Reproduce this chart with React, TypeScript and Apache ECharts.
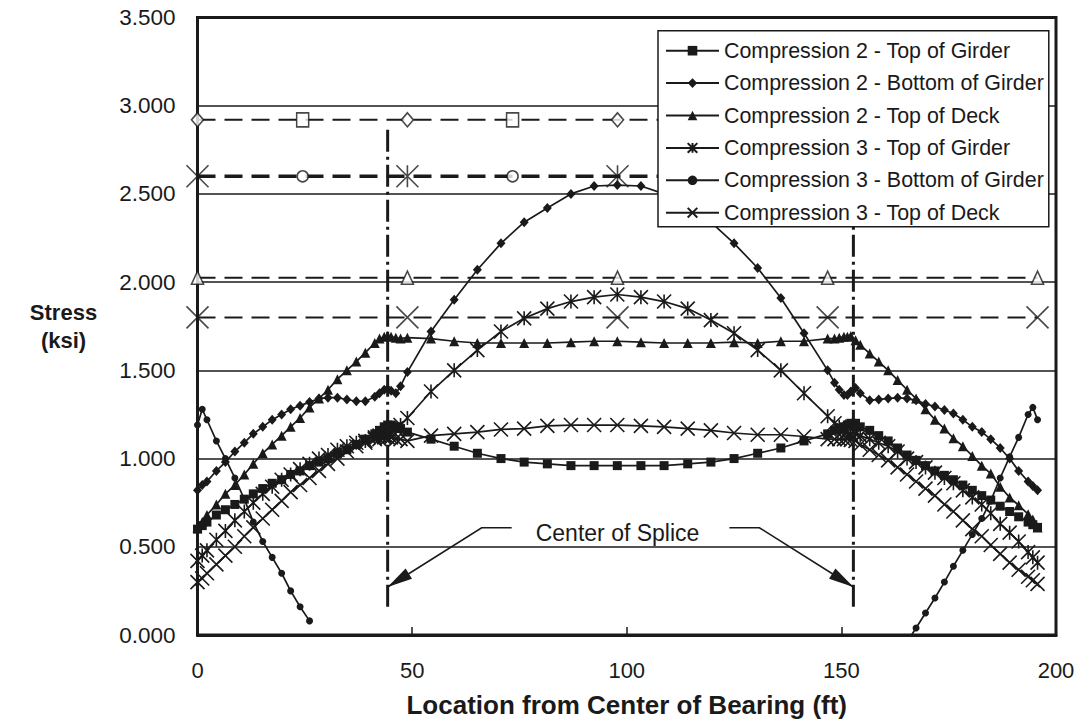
import React, { useEffect, useRef } from "react";
import * as echarts from "echarts";

const FONT = "'Liberation Sans', Arial, Helvetica, sans-serif";
const INK = "#1a1a1a";

// Location from center of bearing (ft)
const locations = [
  0, 1.1, 2.2, 4.4, 6.5, 8.7, 10.9, 13.0, 15.2, 17.4, 19.6, 21.7, 23.9, 26.1, 28.3, 30.4, 32.6, 34.8, 37.0, 39.1, 41.3, 42.4, 43.5, 44.3, 45.1, 46.2, 47.3, 48.9,
  54.4, 59.8, 65.2, 70.7, 76.1, 81.5, 87.0, 92.4, 97.8, 103.3, 108.7, 114.2, 119.6, 125.0, 130.5, 135.9, 141.3,
  146.8, 148.4, 149.5, 150.6, 151.4, 152.2, 153.3, 154.4, 156.6, 158.7, 160.9, 163.1, 165.3, 167.4, 169.6, 171.8, 174.0, 176.1, 178.3, 180.5, 182.7, 184.8, 187.0, 189.2, 191.3, 193.5, 194.6, 195.7,
];

const c2TopGirder = [
  0.60, 0.62, 0.64, 0.68, 0.71, 0.74, 0.77, 0.80, 0.83, 0.86, 0.88, 0.91, 0.93, 0.96, 0.98, 1.00, 1.03, 1.05, 1.08, 1.11, 1.14, 1.16, 1.18, 1.19, 1.19, 1.18, 1.17, 1.15,
  1.11, 1.07, 1.03, 1.00, 0.98, 0.97, 0.96, 0.96, 0.96, 0.96, 0.96, 0.97, 0.98, 1.00, 1.03, 1.06, 1.10,
  1.14, 1.16, 1.17, 1.18, 1.19, 1.20, 1.20, 1.18, 1.16, 1.13, 1.10, 1.06, 1.02, 0.99, 0.96, 0.93, 0.905, 0.88, 0.85, 0.82, 0.79, 0.765, 0.73, 0.70, 0.67, 0.64, 0.625, 0.61,
];

const c2BottomGirder = [
  0.82, 0.85, 0.87, 0.93, 0.98, 1.04, 1.09, 1.14, 1.18, 1.22, 1.25, 1.28, 1.30, 1.32, 1.34, 1.345, 1.345, 1.335, 1.325, 1.325, 1.35, 1.37, 1.39, 1.395, 1.385, 1.37, 1.41, 1.49,
  1.72, 1.90, 2.07, 2.22, 2.34, 2.42, 2.50, 2.545, 2.55, 2.545, 2.50, 2.43, 2.34, 2.22, 2.08, 1.91, 1.71,
  1.50, 1.43, 1.39, 1.36, 1.36, 1.38, 1.40, 1.37, 1.33, 1.335, 1.34, 1.345, 1.34, 1.33, 1.31, 1.295, 1.275, 1.255, 1.22, 1.18, 1.15, 1.11, 1.06, 1.00, 0.93, 0.87, 0.845, 0.82,
];

const c2TopDeck = [
  0.61, 0.64, 0.68, 0.74, 0.80, 0.85, 0.91, 0.97, 1.03, 1.08, 1.13, 1.18, 1.23, 1.29, 1.34, 1.39, 1.45, 1.50, 1.55, 1.60, 1.655, 1.68, 1.69, 1.695, 1.69, 1.685, 1.68, 1.685,
  1.68, 1.665, 1.655, 1.655, 1.655, 1.655, 1.66, 1.665, 1.665, 1.66, 1.655, 1.655, 1.655, 1.66, 1.655, 1.665, 1.665,
  1.68, 1.68, 1.685, 1.69, 1.69, 1.695, 1.67, 1.645, 1.595, 1.55, 1.50, 1.445, 1.39, 1.34, 1.28, 1.22, 1.17, 1.115, 1.07, 1.015, 0.96, 0.915, 0.84, 0.78, 0.735, 0.685, 0.655, 0.61,
];

const c3TopGirder = [
  0.42, 0.45, 0.48, 0.54, 0.59, 0.65, 0.70, 0.75, 0.80, 0.84, 0.88, 0.91, 0.94, 0.97, 1.00, 1.02, 1.05, 1.07, 1.09, 1.10, 1.12, 1.13, 1.13, 1.14, 1.15, 1.17, 1.19, 1.23,
  1.38, 1.50, 1.615, 1.72, 1.795, 1.85, 1.89, 1.915, 1.93, 1.915, 1.89, 1.85, 1.785, 1.71, 1.615, 1.50, 1.37,
  1.24, 1.20, 1.18, 1.16, 1.15, 1.14, 1.14, 1.13, 1.11, 1.09, 1.07, 1.04, 1.00, 0.98, 0.95, 0.92, 0.89, 0.86, 0.82, 0.78, 0.74, 0.69, 0.63, 0.58, 0.53, 0.47, 0.44, 0.41,
];

const c3BottomGirder = [
  1.19, 1.28, 1.22, 1.10, 1.00, 0.89, 0.77, 0.64, 0.53, 0.44, 0.35, 0.25, 0.16, 0.08, null, null, null, null, null, null, null, null, null, null, null, null, null, null,
  null, null, null, null, null, null, null, null, null, null, null, null, null, null, null, null, null,
  null, null, null, null, null, null, null, null, null, null, null, null, -0.04, 0.04, 0.125, 0.21, 0.30, 0.39, 0.48, 0.57, 0.66, 0.76, 0.89, 1.01, 1.12, 1.25, 1.29, 1.22,
];

const c3TopDeck = [
  0.30, 0.32, 0.35, 0.40, 0.45, 0.50, 0.56, 0.61, 0.66, 0.71, 0.76, 0.81, 0.85, 0.89, 0.93, 0.97, 1.00, 1.04, 1.07, 1.09, 1.11, 1.11, 1.12, 1.12, 1.12, 1.11, 1.11, 1.10,
  1.13, 1.14, 1.15, 1.165, 1.17, 1.185, 1.19, 1.19, 1.19, 1.185, 1.18, 1.17, 1.16, 1.145, 1.135, 1.135, 1.125,
  1.11, 1.11, 1.11, 1.11, 1.11, 1.105, 1.10, 1.08, 1.05, 1.02, 0.99, 0.95, 0.91, 0.87, 0.83, 0.79, 0.74, 0.70, 0.65, 0.60, 0.56, 0.51, 0.46, 0.41, 0.37, 0.33, 0.31, 0.29,
];

const seriesNames = [
  "Compression 2 - Top of Girder",
  "Compression 2 - Bottom of Girder",
  "Compression 2 - Top of Deck",
  "Compression 3 - Top of Girder",
  "Compression 3 - Bottom of Girder",
  "Compression 3 - Top of Deck",
];

// Allowable-stress limit lines
const limitEndsX = [0, 195.7];
const limitMainX = [0, 48.9, 97.85, 146.8, 195.7];
const limitMidX = [24.5, 73.4, 122.3, 171.2];
const limitC2Girder = 2.92;
const limitC3Girder = 2.6;
const limitC2Deck = 2.025;
const limitC3Deck = 1.8;

// Center of splice
const spliceX = [44.3, 152.8];
const spliceSpan = [0.16, 2.88];
const spliceLabel = "Center of Splice";
const arrowTipY = 0.272;
const leaderY = 0.608;
const labelY = 0.58;

const STAR = "path://M0 0L10 10M10 0L0 10M5 0L5 10";
const CROSS = "path://M0 0L10 10M10 0L0 10";

const pairs = (ys: (number | null)[]) =>
  locations.map((x, i) => [x, ys[i] === null ? "-" : ys[i]]);

export default function App() {
  const ref = useRef<HTMLDivElement>(null);

  useEffect(() => {
    if (!ref.current) return;
    const chart = echarts.init(ref.current, undefined, { renderer: "svg" });

    const mainSeries = [
      { ys: c2TopGirder, symbol: "rect", size: 9, bw: 0 },
      { ys: c2BottomGirder, symbol: "diamond", size: [9, 10], bw: 0 },
      { ys: c2TopDeck, symbol: "triangle", size: 10, bw: 0 },
      { ys: c3TopGirder, symbol: STAR, size: 14, bw: 1.6 },
      { ys: c3BottomGirder, symbol: "circle", size: 7, bw: 0 },
      { ys: c3TopDeck, symbol: CROSS, size: 14, bw: 1.6 },
    ].map((s, i) => ({
      name: seriesNames[i],
      type: "line",
      data: pairs(s.ys),
      symbol: s.symbol,
      symbolSize: s.size,
      showAllSymbol: true,
      connectNulls: false,
      clip: true,
      lineStyle: { color: INK, width: 1.7 },
      itemStyle: { color: INK, borderColor: INK, borderWidth: s.bw },
      emphasis: { disabled: true },
      z: 4,
    }));

    const limitLine = (y: number, width: number) => ({
      type: "line",
      data: limitEndsX.map((x) => [x, y]),
      showSymbol: false,
      silent: true,
      lineStyle: { color: INK, width, type: [18, 9] },
      z: 2,
    });
    const limitMarks = (xs: number[], y: number, symbol: string, size: any) => ({
      type: "scatter",
      data: xs.map((x) => [x, y]),
      symbol,
      symbolSize: size,
      silent: true,
      clip: false,
      itemStyle: { color: "#fff", borderColor: INK, borderWidth: 1.6 },
      z: 3,
    });

    const spliceSeries = spliceX.map((x) => ({
      type: "line",
      data: spliceSpan.map((y) => [x, y]),
      showSymbol: false,
      silent: true,
      lineStyle: { color: INK, width: 3, type: [22, 5, 3, 5] },
      z: 1,
    }));

    chart.setOption({
      animation: false,
      textStyle: { fontFamily: FONT },
      grid: {
        left: 197.5,
        top: 17.5,
        right: 36,
        bottom: 93,
        show: true,
        borderColor: INK,
        borderWidth: 3,
        backgroundColor: "transparent",
      },
      xAxis: {
        type: "value",
        min: 0,
        max: 200,
        interval: 50,
        name: "Location from Center of Bearing (ft)",
        nameLocation: "middle",
        nameGap: 70,
        nameTextStyle: {
          fontSize: 26,
          fontWeight: "bold",
          color: INK,
          fontFamily: FONT,
          verticalAlign: "middle",
        },
        axisLine: { show: true, lineStyle: { color: INK, width: 3 } },
        axisTick: { show: true, inside: true, length: 8, lineStyle: { color: INK, width: 1.5 } },
        axisLabel: { fontSize: 22, color: INK, margin: 24, fontFamily: FONT },
        splitLine: { show: false },
      },
      yAxis: {
        type: "value",
        min: 0,
        max: 3.5,
        interval: 0.5,
        name: "Stress\n(ksi)",
        nameLocation: "middle",
        nameRotate: 0,
        nameGap: 134,
        nameTextStyle: {
          fontSize: 22,
          fontWeight: "bold",
          color: INK,
          align: "center",
          verticalAlign: "middle",
          lineHeight: 28,
          fontFamily: FONT,
        },
        axisLine: { show: true, lineStyle: { color: INK, width: 3 } },
        axisTick: { show: false },
        axisLabel: {
          fontSize: 22.5,
          color: INK,
          margin: 22,
          fontFamily: FONT,
          formatter: (v: number) => v.toFixed(3),
        },
        splitLine: { show: true, lineStyle: { color: INK, width: 1.5 } },
      },
      legend: {
        data: seriesNames,
        orient: "vertical",
        left: 658,
        top: 30.7,
        padding: [8, 5, 2, 7],
        itemWidth: 53,
        itemHeight: 12,
        itemGap: 8.4,
        backgroundColor: "#fff",
        borderColor: INK,
        borderWidth: 1.5,
        borderRadius: 0,
        selectedMode: false,
        textStyle: { fontSize: 21.4, color: INK, lineHeight: 24, fontFamily: FONT },
        z: 10,
      },
      series: [
        ...spliceSeries,
        limitLine(limitC2Girder, 2),
        limitLine(limitC3Girder, 3.5),
        limitLine(limitC2Deck, 2),
        limitLine(limitC3Deck, 2),
        limitMarks(limitMainX, limitC2Girder, "diamond", [12, 14]),
        limitMarks(limitMidX, limitC2Girder, "rect", [12, 14]),
        limitMarks(limitMainX, limitC3Girder, STAR, 22),
        limitMarks(limitMidX, limitC3Girder, "circle", 11),
        limitMarks(limitMainX, limitC2Deck, "triangle", [12, 13]),
        limitMarks(limitMainX, limitC3Deck, CROSS, 22),
        ...mainSeries,
      ],
    });

    // Annotation: "Center of Splice" with leaders and arrowheads
    const tipL = chart.convertToPixel({ gridIndex: 0 }, [spliceX[0], arrowTipY]) as number[];
    const tipR = chart.convertToPixel({ gridIndex: 0 }, [spliceX[1], arrowTipY]) as number[];
    const ly = (chart.convertToPixel({ gridIndex: 0 }, [0, leaderY]) as number[])[1];
    const ty = (chart.convertToPixel({ gridIndex: 0 }, [0, labelY]) as number[])[1];
    const elbowL = [tipL[0] + 94, ly];
    const endL = [tipL[0] + 124, ly];
    const elbowR = [tipR[0] - 94, ly];
    const endR = [tipR[0] - 124, ly];
    const head = (tip: number[], from: number[]) => {
      const dx = tip[0] - from[0];
      const dy = tip[1] - from[1];
      const len = Math.hypot(dx, dy);
      const ux = dx / len;
      const uy = dy / len;
      const L = 25;
      const W = 6;
      const bx = tip[0] - ux * L;
      const by = tip[1] - uy * L;
      return [
        [tip[0], tip[1]],
        [bx - uy * W, by + ux * W],
        [bx + uy * W, by - ux * W],
      ];
    };
    chart.setOption({
      graphic: [
        {
          type: "polyline",
          shape: { points: [endL, elbowL, tipL] },
          style: { stroke: INK, lineWidth: 1.6, fill: "none" },
          z: 20,
        },
        {
          type: "polyline",
          shape: { points: [endR, elbowR, tipR] },
          style: { stroke: INK, lineWidth: 1.6, fill: "none" },
          z: 20,
        },
        { type: "polygon", shape: { points: head(tipL, elbowL) }, style: { fill: INK }, z: 20 },
        { type: "polygon", shape: { points: head(tipR, elbowR) }, style: { fill: INK }, z: 20 },
        {
          type: "text",
          x: (endL[0] + endR[0]) / 2 - 3,
          y: ty,
          style: {
            text: spliceLabel,
            fontSize: 23,
            fontFamily: FONT,
            fill: INK,
            align: "center",
            verticalAlign: "middle",
          },
          z: 20,
        },
      ],
    });

    return () => chart.dispose();
  }, []);

  return (
    <div
      ref={ref}
      style={{ position: "absolute", left: 0, top: 0, width: 1092, height: 728, background: "#fff" }}
    />
  );
}
